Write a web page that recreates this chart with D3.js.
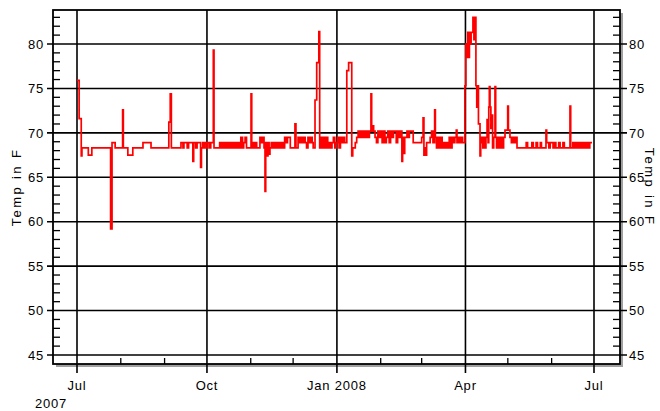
<!DOCTYPE html>
<html><head><meta charset="utf-8">
<script src="https://cdn.jsdelivr.net/npm/d3@7"></script>
<style>
body{margin:0;background:#fff}
svg{display:block}
text{font-family:"Liberation Sans",Arial,sans-serif;font-size:13px;fill:#000;letter-spacing:0.8px}
text.title{letter-spacing:2.4px}
</style>
</head><body>
<svg id="chart" width="660" height="411"></svg>
<script>
// ---- data ----
const seriesStart = "2007-07-01";
// [days after seriesStart, temperature in F] – step readings
const readings = [
[0,75.9],[1.5,71.6],[3,67.4],[3.5,68.3],[8,67.5],[10.5,68.3],[23.8,59.2],[24.8,68.9],[27,68.3],
[32.3,72.6],[32.8,68.3],[36,67.5],[39.5,68.3],[46.7,68.9],[52.4,68.3],[65,71.2],[66,74.4],[66.8,68.3],
[73.6,68.9],[75,68.3],[75.7,68.9],[78,68.3],[79,68.9],[82,66.8],[82.6,68.9],[84,68.3],[85,68.9],
[87.5,66.1],[88.1,68.3],[89,68.9],[90,68.3],[90.7,68.9],[92,68.3],[92.7,68.9],[94,68.3],[94.7,68.9],
[96.5,79.3],[97,68.3],
[101,68.9],[102,68.3],[103,68.9],[104,68.3],[105,68.9],[106,68.3],[107,68.9],[108,68.3],[109,68.9],
[110,68.3],[111,68.9],[112,68.3],[113,68.9],[114,68.3],[115,68.9],[115.8,68.3],
[116,69.5],[117.2,68.3],[118,68.9],[119,69.5],[120,68.3],[123.2,74.4],[123.7,68.3],[124.5,68.9],
[125.5,68.3],[126.5,68.9],[127.2,68.3],[129.5,69.5],[130.5,68.9],[131.5,69.5],[132.4,68.3],
[133.1,63.4],[133.6,68.9],[134.5,67.4],[135.2,68.9],[136,67.6],[136.6,68.3],
[137.5,68.9],[138.5,68.3],[139.5,68.9],[140.5,68.3],[141.5,68.9],[142.5,68.3],[143.5,68.9],
[144.5,68.3],[145.5,68.9],[146.3,68.3],
[147,69.5],[148,68.9],[149,69.5],[151,68.3],[154.3,71.0],[155,68.3],
[156.5,69.5],[157.5,68.9],[158.5,69.5],[159.5,68.9],[160.5,69.5],[161.5,68.9],[162.5,68.3],
[163.5,69.5],[164.5,68.9],[165.5,69.5],[166.5,68.9],[167.2,68.3],
[168.5,73.7],[169.7,77.9],[171.2,81.4],[171.8,68.3],
[172.5,69.5],[173.5,68.3],[174.5,69.5],[175.5,68.3],[176.5,69.5],[177.5,68.3],[178.5,68.9],
[179.5,68.3],[180.5,68.9],[181.5,69.5],[182.5,68.3],[183.5,68.9],[184.5,69.5],[185.5,68.3],
[186.5,69.5],[187.5,68.9],[188.5,69.5],[189.5,68.9],
[191,77.0],[192.3,77.9],[194.5,67.4],[195.2,68.3],[197,68.9],[198,69.5],
[199,70.2],[200,69.5],[201,70.2],[202,69.5],[203,70.2],[204,69.5],[205,70.2],[206,69.5],[207,70.2],
[208.1,74.4],[208.6,70.2],[209.3,70.8],[210,70.2],[211,69.5],[212,68.9],[213,70.2],
[214,69.5],[215,70.2],[216,68.9],[217,70.2],[218,68.9],[219,69.5],[220,70.2],[221,68.9],[222,70.2],
[223,69.5],[224,70.2],[226,68.9],[227,70.2],[228,69.5],[229,70.2],[230,66.8],[230.5,69.5],
[231,67.7],[232,69.5],[233.6,70.2],[234.5,69.5],[235.3,70.2],[238,68.9],
[244,69.5],[245,71.7],[245.6,67.5],[246.3,68.3],[247,67.5],[247.5,68.9],[250,69.5],[251,70.2],
[252,68.9],[253.2,72.6],[253.7,69.5],
[254.5,68.3],[255.5,69.5],[256.5,68.3],[257.5,69.5],[258.5,68.3],[259.5,68.9],[260.5,68.3],
[261.5,68.9],[262.5,68.3],[263.5,69.5],[264.5,68.3],[265.5,69.5],
[266.5,68.9],[267.5,69.5],[268.5,70.3],[269,68.9],[270,69.5],[271,68.9],[272,69.5],[273,68.9],
[274.6,75.3],[275.3,80.0],[276,78.5],[276.6,81.3],[277.2,78.5],[277.8,81.3],[278.4,80.0],[279,81.3],
[280.3,83.0],[281,80.5],[281.5,83.0],[282.4,75.3],[283,72.9],[283.6,75.3],[284.2,71.0],
[285.3,67.4],[285.8,68.9],
[286.5,69.5],[287.3,68.3],[288,69.5],[288.8,68.3],[289.5,69.5],[290.3,71.5],[291,68.9],
[291.5,72.9],[291.9,75.2],[292.4,72.9],[293,70.5],[293.6,72.0],[294.2,68.3],[295,69.5],
[295.9,75.2],[296.4,69.5],[297,68.3],[298,69.5],[299,68.3],[300,69.5],[301,68.3],[302,69.5],
[303,70.3],[304.9,73.0],[305.4,70.3],[306.5,69.5],[307.5,68.9],[308.5,69.5],[309.5,68.9],
[310.5,69.5],[311.5,68.3],[318,68.9],[319,68.3],[322,68.9],[323,68.3],[325,68.9],[326,68.3],
[328,68.9],[328.8,68.3],[332,70.3],[332.5,68.9],[334,68.3],[335,68.9],[337,68.3],[338,68.9],
[339,68.3],[341,68.9],[342,68.3],[344,68.9],[345,68.3],[349,73.0],[349.5,68.3],
[351,68.9],[352,68.3],[353,68.9],[354,68.3],[355,68.9],[356,68.3],[357,68.9],[358,68.3],
[359,68.9],[360,68.3],[361,68.9],[362,68.3],[363,68.9],[364.6,68.9]
];
const yMajorTicks = [45,50,55,60,65,70,75,80];
const yMinorTicks = [46,47,48,49,51,52,53,54,56,57,58,59,61,62,63,64,66,67,68,69,71,72,73,74,76,77,78,79,81,82,83];
const xMajorDates = ["2007-07-01","2007-10-01","2008-01-01","2008-04-01","2008-07-01"];
const xMajorLabels = ["Jul","Oct","Jan 2008","Apr","Jul"];
const xMinorDates = ["2007-08-01","2007-09-01","2007-11-01","2007-12-01","2008-02-01","2008-03-01","2008-05-01","2008-06-01"];
const yearLabel = "2007";
const axisTitle = "Temp in F";

// ---- layout ----
const parse = d3.timeParse("%Y-%m-%d");
const frame = {left:53, right:620, top:10, bottom:364};
const x = d3.scaleTime().domain([parse("2007-07-01"), parse("2008-07-01")]).range([77, 594]);
const y = d3.scaleLinear().domain([45, 80]).range([355, 44]);
const t0 = parse(seriesStart);
const data = readings.map(([d, v]) => ({date: d3.timeMinute.offset(t0, Math.round(d*1440)), temp: v}));

const svg = d3.select("#chart");

// shadow
svg.append("rect").attr("x", frame.left+3).attr("y", frame.top+3)
  .attr("width", frame.right-frame.left).attr("height", frame.bottom-frame.top)
  .attr("fill", "#a0a0a0");
svg.append("rect").attr("x", frame.left).attr("y", frame.top)
  .attr("width", frame.right-frame.left).attr("height", frame.bottom-frame.top)
  .attr("fill", "#fff");

// horizontal gridlines (with outer major ticks)
svg.append("g").selectAll("line").data(yMajorTicks).join("line")
  .attr("x1", frame.left-6).attr("x2", frame.right+7)
  .attr("y1", d=>y(d)).attr("y2", d=>y(d))
  .attr("stroke", "#000").attr("stroke-width", 1.6);

// vertical gridlines (with outer major ticks)
svg.append("g").selectAll("line").data(xMajorDates).join("line")
  .attr("x1", d=>x(parse(d))).attr("x2", d=>x(parse(d)))
  .attr("y1", frame.top).attr("y2", frame.bottom+9)
  .attr("stroke", "#000").attr("stroke-width", 1.6);

// minor ticks (inward)
const minor = svg.append("g").attr("stroke", "#000").attr("stroke-width", 1.3);
minor.selectAll("line.l").data(yMinorTicks).join("line").attr("class","l")
  .attr("x1", frame.left).attr("x2", frame.left+7)
  .attr("y1", d=>y(d)).attr("y2", d=>y(d));
minor.selectAll("line.r").data(yMinorTicks).join("line").attr("class","r")
  .attr("x1", frame.right-7).attr("x2", frame.right)
  .attr("y1", d=>y(d)).attr("y2", d=>y(d));
minor.selectAll("line.b").data(xMinorDates).join("line").attr("class","b")
  .attr("x1", d=>x(parse(d))).attr("x2", d=>x(parse(d)))
  .attr("y1", frame.bottom-6).attr("y2", frame.bottom);

// data line
const line = d3.line().x(d=>x(d.date)).y(d=>y(d.temp)).curve(d3.curveStepAfter);
svg.append("path").datum(data).attr("d", line)
  .attr("fill", "none").attr("stroke", "#ff0000").attr("stroke-width", 1.7);

// frame
svg.append("rect").attr("x", frame.left).attr("y", frame.top)
  .attr("width", frame.right-frame.left).attr("height", frame.bottom-frame.top)
  .attr("fill", "none").attr("stroke", "#000").attr("stroke-width", 1.8);

// y labels
svg.append("g").selectAll("text").data(yMajorTicks).join("text")
  .attr("x", frame.left-9).attr("y", d=>y(d)).attr("dy", "0.36em")
  .attr("text-anchor", "end").text(d=>d);
svg.append("g").selectAll("text").data(yMajorTicks).join("text")
  .attr("x", frame.right+9).attr("y", d=>y(d)).attr("dy", "0.36em")
  .attr("text-anchor", "start").text(d=>d);

// x labels
svg.append("g").selectAll("text").data(xMajorDates).join("text")
  .attr("x", d=>x(parse(d))).attr("y", 390)
  .attr("text-anchor", "middle").text((d,i)=>xMajorLabels[i]);
svg.append("text").attr("x", 51).attr("y", 408).attr("text-anchor","middle").text(yearLabel);

// axis titles
svg.append("text").attr("class","title").attr("transform","translate(21,187) rotate(-90)")
  .attr("text-anchor","middle").text(axisTitle);
svg.append("text").attr("class","title").attr("transform","translate(645,187) rotate(90)")
  .attr("text-anchor","middle").text(axisTitle);
</script>
</body></html>
